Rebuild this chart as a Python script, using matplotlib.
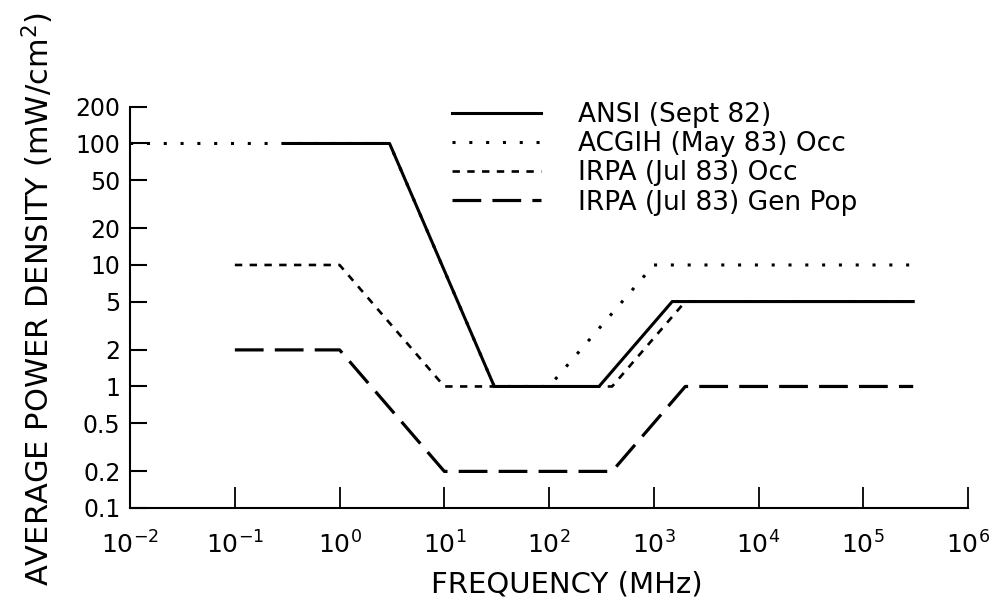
import matplotlib
matplotlib.use("Agg")
import matplotlib.pyplot as plt

# ---- exposure limits (MHz vs mW/cm^2) ----
ansi_f = [0.3, 3, 30, 300, 1500, 300000]
ansi_p = [100, 100, 1, 1, 5, 5]

acgih_f = [0.01, 3, 30, 100, 1000, 300000]
acgih_p = [100, 100, 1, 1, 10, 10]

irpa_occ_f = [0.1, 1, 10, 400, 2000, 300000]
irpa_occ_p = [10, 10, 1, 1, 5, 5]

irpa_gen_f = [0.1, 1, 10, 400, 2000, 300000]
irpa_gen_p = [2, 2, 0.2, 0.2, 1, 1]

labels = ["ANSI (Sept 82)", "ACGIH (May 83) Occ",
          "IRPA (Jul 83) Occ", "IRPA (Jul 83) Gen Pop"]

x_ticks = [1e-2, 1e-1, 1e0, 1e1, 1e2, 1e3, 1e4, 1e5, 1e6]
x_ticklabels = [r"$10^{-2}$", r"$10^{-1}$", r"$10^{0}$", r"$10^{1}$",
                r"$10^{2}$", r"$10^{3}$", r"$10^{4}$", r"$10^{5}$", r"$10^{6}$"]
y_ticks = [0.1, 0.2, 0.5, 1, 2, 5, 10, 20, 50, 100, 200]
y_ticklabels = ["0.1", "0.2", "0.5", "1", "2", "5", "10", "20", "50", "100", "200"]

plt.rcParams["font.family"] = ["DejaVu Sans"]
plt.rcParams["mathtext.fontset"] = "dejavusans"

fig = plt.figure(figsize=(10.01, 6.04), dpi=100)
ax = fig.add_axes([0.130, 0.159, 0.837, 0.664])

ax.plot(ansi_f, ansi_p, color="black", lw=2.2, ls="-", label=labels[0])
ax.plot(acgih_f, acgih_p, color="black", lw=2.2, dashes=(1, 4.5), label=labels[1])
ax.plot(irpa_occ_f, irpa_occ_p, color="black", lw=1.9, dashes=(2.8, 2.8), label=labels[2])
ax.plot(irpa_gen_f, irpa_gen_p, color="black", lw=2.3, dashes=(9, 3.5), label=labels[3])

ax.set_xscale("log")
ax.set_yscale("log")
ax.set_xlim(1e-2, 1e6)
ax.set_ylim(0.1, 200)

ax.set_xticks(x_ticks)
ax.set_xticklabels(x_ticklabels, fontsize=18)
ax.set_yticks(y_ticks)
ax.set_yticklabels(y_ticklabels, fontsize=17)
ax.minorticks_off()

ax.tick_params(axis="x", direction="in", length=15, width=1.3, pad=17)
ax.tick_params(axis="y", direction="in", length=12, width=1.5, pad=7)

for side in ["top", "right"]:
    ax.spines[side].set_visible(False)
for side in ["left", "bottom"]:
    ax.spines[side].set_linewidth(1.5)

ax.set_xlabel("FREQUENCY (MHz)", fontsize=21)
ax.xaxis.set_label_coords(0.521, -0.155)
ax.set_ylabel("AVERAGE POWER DENSITY (mW/cm$^2$)", fontsize=22)
ax.yaxis.set_label_coords(-0.088, 0.52)

ax.legend(loc="upper left", bbox_to_anchor=(0.368, 1.045), frameon=False,
          fontsize=19, handlelength=3.4, handletextpad=1.4, labelspacing=0.12,
          borderpad=0)

fig.savefig("out.png", dpi=100)
